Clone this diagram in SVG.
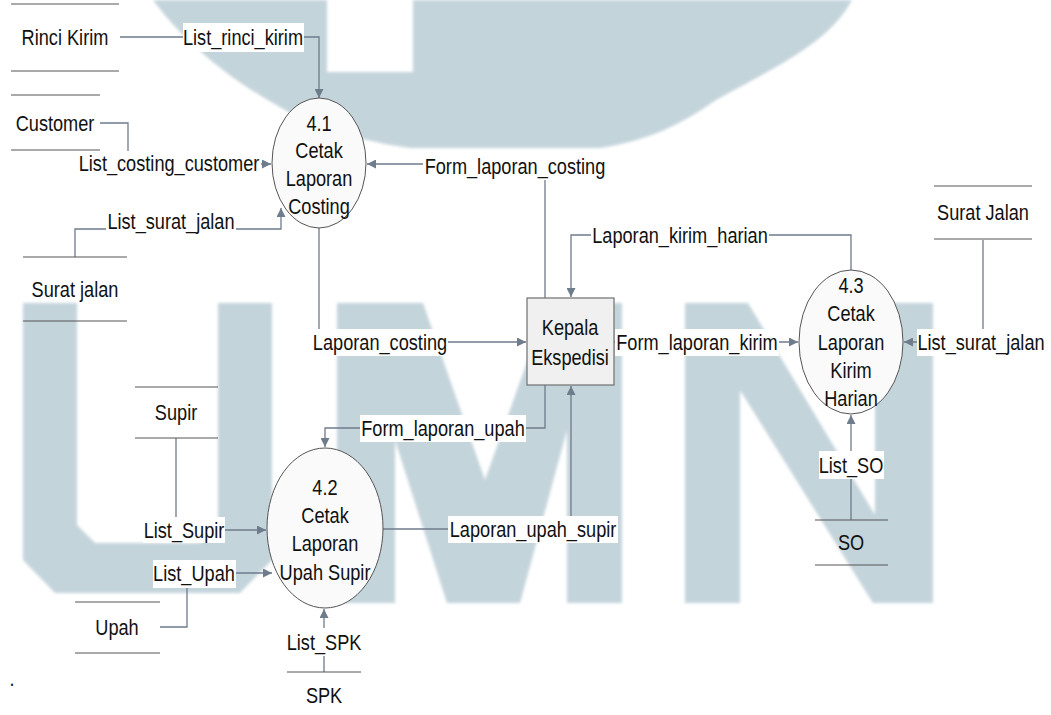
<svg xmlns="http://www.w3.org/2000/svg" width="1051" height="715" viewBox="0 0 1051 715">
  <defs>
    <style>
      text { font-family: "Liberation Sans", Arial, sans-serif; font-size: 21.5px; fill: #111; text-anchor: middle; dominant-baseline: central; }
      .t { transform-box: fill-box; transform-origin: center; transform: scaleX(0.845); }
      .store { stroke: #555; stroke-width: 1; fill: none; }
      .flow { stroke: #6f7c8c; stroke-width: 1.3; fill: none; }
      .arrow { marker-end: url(#head); }
      .lbl { fill: #fff; stroke: none; }
      .proc { fill: #fafafa; stroke: #555; stroke-width: 1; }
      .ent { fill: #f0f0f0; stroke: #707070; stroke-width: 1.2; }
      .wm { fill: #c4d4db; }
    </style>
    <marker id="head" viewBox="0 0 10 10" refX="10" refY="5" markerWidth="9" markerHeight="9" markerUnits="userSpaceOnUse" orient="auto">
      <path d="M0,0 L10,5 L0,10 Z" fill="#6f7c8c"/>
    </marker>
    <filter id="soft" x="-5%" y="-5%" width="110%" height="110%">
      <feGaussianBlur stdDeviation="1.6"/>
    </filter>
  </defs>

  <rect width="1051" height="715" fill="#fff"/>

  <!-- background emblem and lettering -->
  <g id="emblem" class="wm" filter="url(#soft)">
    <path d="M153,0 H327 V72 H413 V0 H852 C830,40 790,60 716,100 C680,125 650,140 600,148 H410 C350,140 300,120 280,107 C240,85 190,50 153,0 Z"/>
    <path d="M23,303 H77 V525 L95,543 H200 L218,525 V303 H272 V560 L240,593 H55 L23,560 Z"/>
    <path d="M337,303 H423 L485,480 L548,303 H622 V603 H567 V430 L520,603 H447 L395,440 V603 H337 Z"/>
    <path d="M685,303 H748 L875,515 V303 H933 V603 H873 L740,390 V603 H685 Z"/>
  </g>

  <!-- connectors -->
  <g id="connectors">
    <path class="flow arrow" d="M120,37 H319 V98"/>
    <path class="flow arrow" d="M100,123 H128 V164 H271"/>
    <path class="flow arrow" d="M75,257 V229 H281 V208"/>
    <path class="flow arrow" d="M545,298 V164 H367"/>
    <path class="flow arrow" d="M319,228 V342 H526"/>
    <path class="flow arrow" d="M851,270 V235 H571 V297"/>
    <path class="flow arrow" d="M614,342 H798"/>
    <path class="flow arrow" d="M983,240 V342 H904"/>
    <path class="flow arrow" d="M851,520 V415"/>
    <path class="flow arrow" d="M545,385 V428 H325 V447"/>
    <path class="flow arrow" d="M383,529 H571 V386"/>
    <path class="flow arrow" d="M176,438 V530 H266"/>
    <path class="flow arrow" d="M160,627 H187 V573 H272"/>
    <path class="flow arrow" d="M324,672 V609"/>

    <rect class="lbl" x="183" y="23" width="121" height="29"/>
    <text class="t" x="243" y="37">List_rinci_kirim</text>
    <rect class="lbl" x="78" y="151" width="183" height="26"/>
    <text class="t" x="169" y="163">List_costing_customer</text>
    <rect class="lbl" x="106" y="208" width="130" height="28"/>
    <text class="t" x="171" y="221">List_surat_jalan</text>
    <rect class="lbl" x="423" y="152" width="185" height="28"/>
    <text class="t" x="515" y="166">Form_laporan_costing</text>
    <rect class="lbl" x="311" y="329" width="137" height="27"/>
    <text class="t" x="380" y="342">Laporan_costing</text>
    <rect class="lbl" x="591" y="222" width="178" height="27"/>
    <text class="t" x="680" y="235">Laporan_kirim_harian</text>
    <rect class="lbl" x="615" y="329" width="164" height="27"/>
    <text class="t" x="697" y="342">Form_laporan_kirim</text>
    <rect class="lbl" x="917" y="329" width="130" height="27"/>
    <text class="t" x="981" y="342">List_surat_jalan</text>
    <rect class="lbl" x="819" y="451" width="65" height="28"/>
    <text class="t" x="851" y="465">List_SO</text>
    <rect class="lbl" x="360" y="415" width="166" height="27"/>
    <text class="t" x="443" y="428">Form_laporan_upah</text>
    <rect class="lbl" x="448" y="516" width="170" height="27"/>
    <text class="t" x="533" y="529">Laporan_upah_supir</text>
    <rect class="lbl" x="143" y="517" width="82" height="26"/>
    <text class="t" x="184" y="530">List_Supir</text>
    <rect class="lbl" x="153" y="560" width="83" height="28"/>
    <text class="t" x="194" y="573">List_Upah</text>
    <rect class="lbl" x="286" y="628" width="77" height="28"/>
    <text class="t" x="324" y="642">List_SPK</text>
  </g>

  <!-- data stores -->
  <g id="store-rinci-kirim">
    <path class="store" d="M11,4 H119 M11,71 H119"/>
    <text class="t" x="65" y="37">Rinci Kirim</text>
  </g>
  <g id="store-customer">
    <path class="store" d="M11,95 H100 M11,150 H100"/>
    <text class="t" x="55" y="123">Customer</text>
  </g>
  <g id="store-surat-jalan-left">
    <path class="store" d="M23,257 H127 M23,321 H127"/>
    <text class="t" x="75" y="289">Surat jalan</text>
  </g>
  <g id="store-supir">
    <path class="store" d="M135,387 H218 M135,438 H218"/>
    <text class="t" x="176" y="412">Supir</text>
  </g>
  <g id="store-upah">
    <path class="store" d="M75,602 H160 M75,653 H160"/>
    <text class="t" x="117" y="627">Upah</text>
  </g>
  <g id="store-spk">
    <path class="store" d="M287,672 H361"/>
    <text class="t" x="324" y="695">SPK</text>
  </g>
  <g id="store-so">
    <path class="store" d="M815,520 H888 M815,565 H888"/>
    <text class="t" x="851" y="542">SO</text>
  </g>
  <g id="store-surat-jalan-right">
    <path class="store" d="M934,186 H1032 M934,239 H1032"/>
    <text class="t" x="983" y="212">Surat Jalan</text>
  </g>

  <!-- processes -->
  <g id="proc-4-1">
    <ellipse class="proc" cx="319" cy="163" rx="47" ry="65"/>
    <text class="t" x="319" y="123">4.1</text>
    <text class="t" x="319" y="150">Cetak</text>
    <text class="t" x="319" y="178">Laporan</text>
    <text class="t" x="319" y="206">Costing</text>
  </g>
  <g id="proc-4-2">
    <ellipse class="proc" cx="325" cy="528" rx="58" ry="80"/>
    <text class="t" x="325" y="487">4.2</text>
    <text class="t" x="325" y="515">Cetak</text>
    <text class="t" x="325" y="543">Laporan</text>
    <text class="t" x="325" y="572">Upah Supir</text>
  </g>
  <g id="proc-4-3">
    <ellipse class="proc" cx="851" cy="342" rx="52" ry="72"/>
    <text class="t" x="851" y="285">4.3</text>
    <text class="t" x="851" y="313">Cetak</text>
    <text class="t" x="851" y="342">Laporan</text>
    <text class="t" x="851" y="370">Kirim</text>
    <text class="t" x="851" y="398">Harian</text>
  </g>

  <!-- external entity -->
  <g id="kepala-ekspedisi">
    <rect class="ent" x="527" y="298" width="87" height="87"/>
    <text class="t" x="570" y="327">Kepala</text>
    <text class="t" x="570" y="357">Ekspedisi</text>
  </g>

  <text class="t" x="12" y="678">.</text>
</svg>
